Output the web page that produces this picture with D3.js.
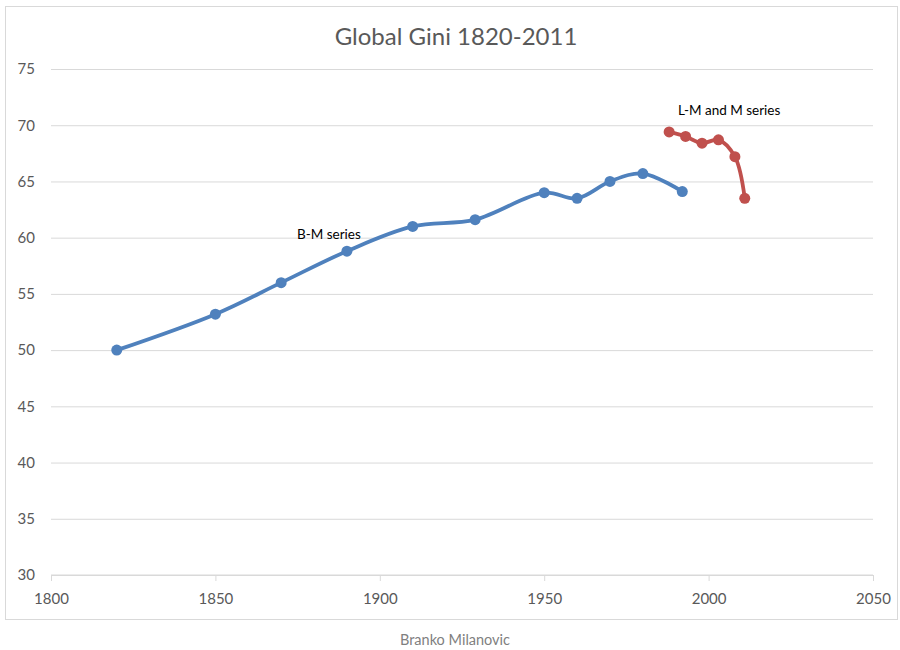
<!DOCTYPE html>
<html>
<head>
<meta charset="utf-8">
<script src="https://cdn.jsdelivr.net/npm/d3@7"></script>
<style>
    body { margin: 0; background: #fff; }
    svg text { font-family: Lato, "Open Sans", sans-serif; }
</style>
</head>
<body>
<svg id="chart" width="900" height="650"></svg>
<script>
// ---------------------------------------------------------------
//    DATA
// ---------------------------------------------------------------
const bmYears = [1820, 1850, 1870, 1890, 1910, 1929, 1950, 1960, 1970, 1980, 1992];
const bmGini = [50.0, 53.2, 56.0, 58.8, 61.0, 61.6, 64.0, 63.5, 65.0, 65.7, 64.1];

const lmYears = [1988, 1993, 1998, 2003, 2008, 2011];
const lmGini = [69.4, 69.0, 68.4, 68.7, 67.2, 63.5];

const xTicks = [1800, 1850, 1900, 1950, 2000, 2050];
const yTicks = [30, 35, 40, 45, 50, 55, 60, 65, 70, 75];

const svg = d3.select("#chart");

const margin = { left: 51, right: 27, top: 69, bottom: 75 };
const width = 900, height = 650;

const x = d3.scaleLinear().domain([1800, 2050]).range([margin.left, width - margin.right]);
const y = d3.scaleLinear().domain([30, 75]).range([height - margin.bottom, margin.top]);

// Chart frame
svg.append("rect")
    .attr("x", 5.5).attr("y", 6.5)
    .attr("width", 892).attr("height", 613)
    .attr("fill", "#fff")
    .attr("stroke", "#d9d9d9");

// Horizontal gridlines + y labels
const yAxis = d3.axisLeft(y)
    .tickValues(yTicks)
    .tickSize(-(x.range()[1] - x.range()[0]))
    .tickPadding(16);

const gy = svg.append("g")
    .attr("transform", `translate(${margin.left},0)`)
    .call(yAxis);
gy.select(".domain").remove();
gy.selectAll(".tick line").attr("stroke", "#d9d9d9");
gy.selectAll(".tick text")
    .attr("fill", "#595959")
    .style("font-size", "15px");

// X axis
const xAxis = d3.axisBottom(x)
    .tickValues(xTicks)
    .tickFormat(d3.format("d"))
    .tickSize(6)
    .tickPadding(12);

const gx = svg.append("g")
    .attr("transform", `translate(0,${y(30)})`)
    .call(xAxis);
gx.select(".domain").attr("stroke", "#d9d9d9").attr("d", `M${x.range()[0]},0H${x.range()[1]}`);
gx.selectAll(".tick line").attr("stroke", "#d9d9d9");
gx.selectAll(".tick text")
    .attr("fill", "#595959")
    .style("font-size", "15px");

// Series
function drawSeries(years, values, color) {
    const pts = years.map((yr, i) => [yr, values[i]]);
    const line = d3.line()
        .x(d => x(d[0]))
        .y(d => y(d[1]))
        .curve(d3.curveCatmullRom.alpha(0.5));

    svg.append("path")
        .datum(pts)
        .attr("d", line)
        .attr("fill", "none")
        .attr("stroke", color)
        .attr("stroke-width", 3.8)
        .attr("stroke-linejoin", "round")
        .attr("stroke-linecap", "round");

    svg.append("g")
        .selectAll("circle")
        .data(pts)
        .join("circle")
        .attr("cx", d => x(d[0]))
        .attr("cy", d => y(d[1]))
        .attr("r", 5.5)
        .attr("fill", color);
}

drawSeries(bmYears, bmGini, "#4f81bd");
drawSeries(lmYears, lmGini, "#c0504d");

// Series labels
svg.append("text")
    .attr("x", 297).attr("y", 239)
    .style("font-size", "13.5px")
    .attr("fill", "#000")
    .text("B-M series");

svg.append("text")
    .attr("x", 678).attr("y", 115)
    .style("font-size", "13.5px")
    .attr("fill", "#000")
    .text("L-M and M series");

// Title
svg.append("text")
    .attr("x", 456).attr("y", 45)
    .attr("text-anchor", "middle")
    .attr("fill", "#595959")
    .style("font-size", "24px")
    .text("Global Gini 1820-2011");

// Footer
svg.append("text")
    .attr("x", 455).attr("y", 645)
    .attr("text-anchor", "middle")
    .attr("fill", "#7f7f7f")
    .style("font-size", "14.5px")
    .text("Branko Milanovic");
</script>
</body>
</html>
